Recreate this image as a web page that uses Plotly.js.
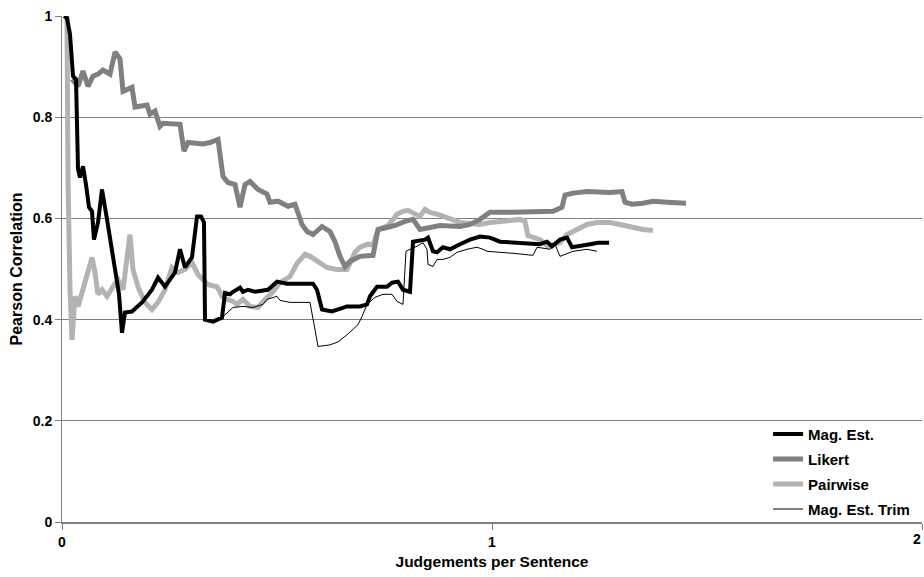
<!DOCTYPE html>
<html>
<head>
<meta charset="utf-8">
<script src="https://cdn.plot.ly/plotly-3.0.1.min.js"></script>
<style>
  html, body { margin: 0; padding: 0; background: #ffffff; }
  #chart { width: 924px; height: 577px; }
</style>
</head>
<body>
<div id="chart"></div>
<script>
// Correlation with gold scores as judgements per sentence accumulate.
const magEstX = [0.0047, 0.0116, 0.0186, 0.0256, 0.0326, 0.0372, 0.0419, 0.0488, 0.0558, 0.0628, 0.0698, 0.0744, 0.0837, 0.0930, 0.1047, 0.1163, 0.1279, 0.1326, 0.1395, 0.1465, 0.1628, 0.1860, 0.2093, 0.2233, 0.2395, 0.2628, 0.2744, 0.2860, 0.3023, 0.3140, 0.3233, 0.3302, 0.3326, 0.3512, 0.3721, 0.3791, 0.3907, 0.3977, 0.4140, 0.4209, 0.4326, 0.4488, 0.4791, 0.5000, 0.5233, 0.5837, 0.5930, 0.6047, 0.6279, 0.6628, 0.6930, 0.7093, 0.7163, 0.7326, 0.7558, 0.7674, 0.7814, 0.7930, 0.8093, 0.8140, 0.8163, 0.8442, 0.8512, 0.8628, 0.8721, 0.8860, 0.9023, 0.9256, 0.9488, 0.9721, 0.9953, 1.0186, 1.1116, 1.1279, 1.1395, 1.1581, 1.1744, 1.1860, 1.2047, 1.2279, 1.2465, 1.2721];
const magEstY = [1.000, 0.996, 0.964, 0.881, 0.875, 0.697, 0.681, 0.703, 0.667, 0.622, 0.614, 0.558, 0.592, 0.657, 0.598, 0.539, 0.473, 0.450, 0.374, 0.414, 0.416, 0.434, 0.459, 0.483, 0.465, 0.493, 0.539, 0.503, 0.523, 0.604, 0.604, 0.592, 0.400, 0.396, 0.404, 0.453, 0.450, 0.455, 0.463, 0.455, 0.459, 0.455, 0.459, 0.475, 0.471, 0.471, 0.459, 0.420, 0.416, 0.426, 0.426, 0.430, 0.446, 0.465, 0.465, 0.473, 0.475, 0.459, 0.455, 0.549, 0.554, 0.558, 0.562, 0.535, 0.533, 0.543, 0.539, 0.549, 0.558, 0.564, 0.562, 0.554, 0.549, 0.554, 0.545, 0.558, 0.562, 0.543, 0.545, 0.549, 0.552, 0.552];

const likertX = [0.0233, 0.0372, 0.0488, 0.0605, 0.0721, 0.0837, 0.0953, 0.1116, 0.1233, 0.1349, 0.1419, 0.1535, 0.1628, 0.1698, 0.1814, 0.1977, 0.2047, 0.2163, 0.2279, 0.2349, 0.2744, 0.2837, 0.2930, 0.3140, 0.3279, 0.3442, 0.3628, 0.3744, 0.3860, 0.4023, 0.4140, 0.4256, 0.4372, 0.4558, 0.4767, 0.4837, 0.5023, 0.5256, 0.5419, 0.5581, 0.5698, 0.5837, 0.6047, 0.6233, 0.6349, 0.6465, 0.6581, 0.6698, 0.6930, 0.7233, 0.7349, 0.7558, 0.7744, 0.7977, 0.8163, 0.8326, 0.8512, 0.8791, 0.9256, 0.9488, 0.9721, 0.9953, 1.0488, 1.1116, 1.1419, 1.1628, 1.1698, 1.1884, 1.2209, 1.2744, 1.3023, 1.3093, 1.3256, 1.3512, 1.3744, 1.4070, 1.4512];
const likertY = [0.875, 0.861, 0.891, 0.861, 0.881, 0.885, 0.893, 0.885, 0.929, 0.915, 0.851, 0.855, 0.859, 0.820, 0.822, 0.824, 0.806, 0.812, 0.782, 0.788, 0.786, 0.733, 0.750, 0.749, 0.747, 0.750, 0.756, 0.683, 0.671, 0.667, 0.622, 0.667, 0.673, 0.657, 0.648, 0.632, 0.634, 0.624, 0.628, 0.588, 0.574, 0.568, 0.584, 0.574, 0.554, 0.525, 0.505, 0.515, 0.525, 0.527, 0.578, 0.582, 0.586, 0.594, 0.598, 0.578, 0.582, 0.586, 0.584, 0.588, 0.598, 0.612, 0.612, 0.614, 0.614, 0.622, 0.646, 0.650, 0.653, 0.651, 0.653, 0.632, 0.628, 0.630, 0.634, 0.632, 0.630];

const pairwiseX = [0.0116, 0.0140, 0.0186, 0.0233, 0.0302, 0.0372, 0.0465, 0.0581, 0.0698, 0.0767, 0.0837, 0.0930, 0.1047, 0.1186, 0.1302, 0.1419, 0.1581, 0.1651, 0.1767, 0.1930, 0.2093, 0.2233, 0.2395, 0.2558, 0.2698, 0.2860, 0.3023, 0.3163, 0.3279, 0.3395, 0.3605, 0.3721, 0.3837, 0.3977, 0.4070, 0.4209, 0.4372, 0.4558, 0.4721, 0.4884, 0.5070, 0.5186, 0.5302, 0.5465, 0.5651, 0.5767, 0.5930, 0.6163, 0.6395, 0.6628, 0.6814, 0.6930, 0.7116, 0.7233, 0.7349, 0.7581, 0.7791, 0.7930, 0.8047, 0.8163, 0.8326, 0.8442, 0.8558, 0.8744, 0.8860, 0.9070, 0.9256, 0.9488, 0.9721, 0.9953, 1.0186, 1.0651, 1.0767, 1.0837, 1.1116, 1.1302, 1.1465, 1.1581, 1.1744, 1.1977, 1.2209, 1.2442, 1.2744, 1.2977, 1.3279, 1.3512, 1.3744];
const pairwiseY = [1.000, 0.677, 0.459, 0.360, 0.446, 0.426, 0.453, 0.485, 0.523, 0.493, 0.450, 0.459, 0.446, 0.465, 0.479, 0.459, 0.568, 0.499, 0.465, 0.434, 0.420, 0.434, 0.459, 0.503, 0.493, 0.499, 0.513, 0.489, 0.479, 0.469, 0.465, 0.446, 0.440, 0.436, 0.430, 0.440, 0.426, 0.424, 0.440, 0.453, 0.473, 0.479, 0.485, 0.511, 0.529, 0.525, 0.515, 0.503, 0.499, 0.499, 0.533, 0.543, 0.549, 0.547, 0.578, 0.586, 0.608, 0.614, 0.616, 0.612, 0.604, 0.618, 0.612, 0.608, 0.604, 0.598, 0.592, 0.590, 0.588, 0.592, 0.594, 0.598, 0.594, 0.566, 0.558, 0.545, 0.549, 0.552, 0.568, 0.578, 0.588, 0.592, 0.592, 0.588, 0.582, 0.578, 0.576];

const trimX = [0.0047, 0.0116, 0.0186, 0.0256, 0.0326, 0.0372, 0.0419, 0.0488, 0.0558, 0.0628, 0.0698, 0.0744, 0.0837, 0.0930, 0.1047, 0.1163, 0.1279, 0.1326, 0.1395, 0.1465, 0.1628, 0.1860, 0.2093, 0.2233, 0.2395, 0.2628, 0.2744, 0.2860, 0.3023, 0.3140, 0.3233, 0.3302, 0.3326, 0.3512, 0.3721, 0.3837, 0.3977, 0.4209, 0.4442, 0.4674, 0.4767, 0.5000, 0.5070, 0.5302, 0.5767, 0.5884, 0.5953, 0.6233, 0.6419, 0.6628, 0.6744, 0.6884, 0.6977, 0.7093, 0.7279, 0.7465, 0.7674, 0.7791, 0.7930, 0.8000, 0.8093, 0.8256, 0.8395, 0.8488, 0.8512, 0.8628, 0.8721, 0.8860, 0.9023, 0.9186, 0.9419, 0.9651, 0.9791, 0.9884, 1.0488, 1.0953, 1.1047, 1.1349, 1.1465, 1.1581, 1.1884, 1.2209, 1.2442];
const trimY = [1.000, 0.996, 0.964, 0.881, 0.875, 0.697, 0.681, 0.703, 0.667, 0.622, 0.614, 0.558, 0.592, 0.657, 0.598, 0.539, 0.473, 0.450, 0.374, 0.414, 0.416, 0.434, 0.459, 0.483, 0.465, 0.493, 0.539, 0.503, 0.523, 0.604, 0.604, 0.592, 0.400, 0.396, 0.404, 0.414, 0.424, 0.426, 0.424, 0.430, 0.440, 0.446, 0.438, 0.434, 0.434, 0.380, 0.347, 0.350, 0.356, 0.370, 0.380, 0.390, 0.406, 0.430, 0.444, 0.450, 0.450, 0.436, 0.430, 0.535, 0.539, 0.545, 0.552, 0.539, 0.509, 0.505, 0.519, 0.519, 0.523, 0.533, 0.539, 0.543, 0.539, 0.535, 0.531, 0.527, 0.543, 0.539, 0.549, 0.525, 0.535, 0.539, 0.535];

const seriesNames = ['Mag. Est.', 'Likert', 'Pairwise', 'Mag. Est. Trim'];
const yTickVals = [0, 0.2, 0.4, 0.6, 0.8, 1];
const yTickText = ['0', '0.2', '0.4', '0.6', '0.8', '1'];
const xTickVals = [0, 1, 2];
const xTickText = ['0', '1', '2'];

const FONT = 'Liberation Sans, Arial, sans-serif';

function trace(x, y, name, color, width, rank) {
  return {
    x: x, y: y, name: name, type: 'scatter', mode: 'lines',
    line: { color: color, width: width, shape: 'linear' },
    legendgroup: 'g' + rank, legendrank: rank, hoverinfo: 'skip'
  };
}

// Drawing order: light series underneath, thin trimmed line on top;
// legendrank keeps the legend in the series order.
const data = [
  trace(pairwiseX, pairwiseY, seriesNames[2], '#b3b3b3', 5, 3),
  trace(likertX, likertY, seriesNames[1], '#808080', 5, 2),
  trace(magEstX, magEstY, seriesNames[0], '#000000', 4, 1),
  trace(trimX, trimY, seriesNames[3], '#000000', 1, 4)
];

// The last x tick label sits on the page edge, so it is placed as an annotation
// kept just inside the right border.
const edgeLabel = {
  x: xTickVals[2], xref: 'x', y: 0, yref: 'y',
  text: xTickText[2], showarrow: false,
  xanchor: 'right', yanchor: 'top', yshift: -7, xshift: 1,
  font: { family: FONT, size: 14, weight: 'bold', color: '#000000' }
};

const layout = {
  width: 924, height: 577,
  margin: { l: 62, r: 2, t: 16, b: 55 },
  paper_bgcolor: '#ffffff', plot_bgcolor: '#ffffff',
  font: { family: FONT, color: '#000000', size: 13 },
  showlegend: true,
  legend: {
    x: 0.821, y: 0.206, xanchor: 'left', yanchor: 'top',
    bgcolor: 'rgba(255,255,255,0)', borderwidth: 0,
    font: { family: FONT, size: 15, color: '#000000', weight: 'bold' },
    traceorder: 'grouped', tracegroupgap: 2.5, itemwidth: 30
  },
  annotations: [edgeLabel],
  xaxis: {
    range: [0, 2], tickvals: xTickVals, ticktext: [xTickText[0], xTickText[1], ''],
    showgrid: false, zeroline: false,
    showline: true, linecolor: '#808080', linewidth: 2,
    ticks: 'outside', ticklen: 6, tickcolor: '#808080', tickwidth: 1,
    tickfont: { family: FONT, size: 14, weight: 'bold' },
    title: { text: 'Judgements per Sentence', font: { family: FONT, size: 15.5, weight: 'bold' }, standoff: 7 },
    fixedrange: true
  },
  yaxis: {
    range: [0, 1], tickvals: yTickVals, ticktext: yTickText,
    showgrid: true, gridcolor: '#808080', gridwidth: 1,
    zeroline: false,
    showline: true, linecolor: '#808080', linewidth: 1,
    ticks: 'outside', ticklen: 6, tickcolor: '#808080', tickwidth: 1,
    tickfont: { family: FONT, size: 14, weight: 'bold' },
    title: { text: 'Pearson Correlation', font: { family: FONT, size: 16, weight: 'bold' }, standoff: 6 },
    fixedrange: true
  }
};

Plotly.newPlot('chart', data, layout, { displayModeBar: false, staticPlot: true });
</script>
</body>
</html>
